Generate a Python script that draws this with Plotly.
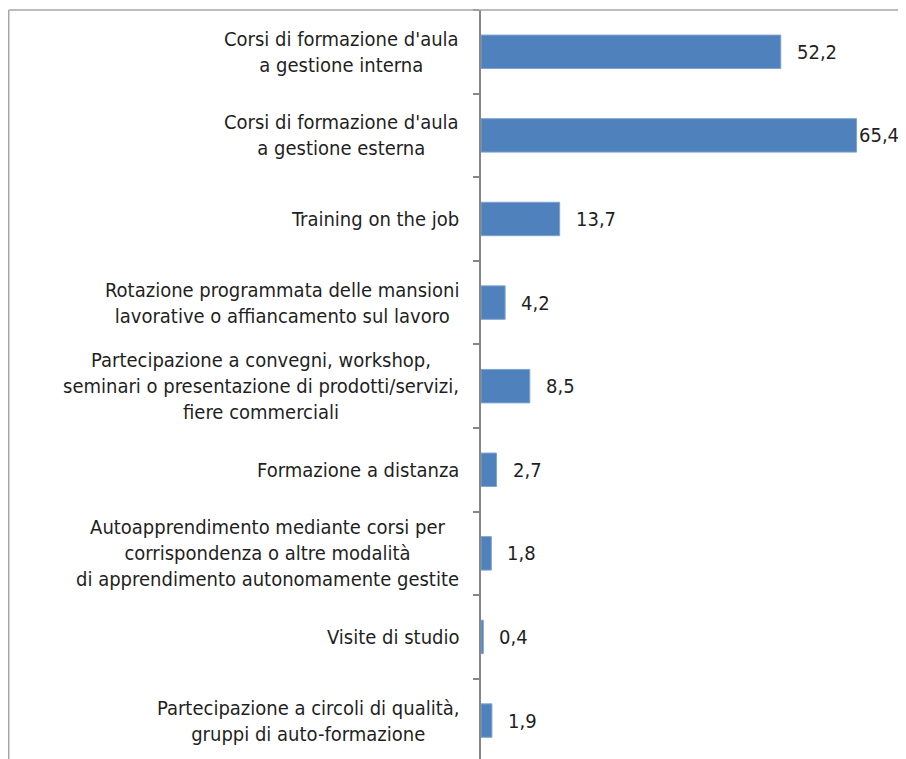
import plotly.graph_objects as go

# Tipologie di formazione e relative quote (%)
categories = [
    "Corsi di formazione d'aula<br>a gestione interna",
    "Corsi di formazione d'aula<br>a gestione esterna",
    "Training on the job",
    "Rotazione programmata delle mansioni<br>lavorative o affiancamento sul lavoro",
    "Partecipazione a convegni, workshop,<br>seminari o presentazione di prodotti/servizi,<br>fiere commerciali",
    "Formazione a distanza",
    "Autoapprendimento mediante corsi per<br>corrispondenza o altre modalità<br>di apprendimento autonomamente gestite",
    "Visite di studio",
    "Partecipazione a circoli di qualità,<br>gruppi di auto-formazione",
]
values = [52.2, 65.4, 13.7, 4.2, 8.5, 2.7, 1.8, 0.4, 1.9]

FONT = "DejaVu Sans Condensed, Liberation Sans, sans-serif"
BAR_COLOR = "#4F81BD"
AXIS_COLOR = "#868686"
TEXT_COLOR = "#1f1f1f"

fig = go.Figure()
fig.add_trace(go.Bar(
    x=values,
    y=categories,
    orientation='h',
    marker=dict(color=BAR_COLOR, line=dict(color='#7FA3CF', width=1)),
    hoverinfo='x+y',
))

annotations = []
# etichette delle categorie (righe centrate, blocco allineato all'asse)
for cat in categories:
    annotations.append(dict(
        x=0, y=cat, xref='x', yref='y', text=cat, showarrow=False,
        xanchor='right', yanchor='middle', align='center', xshift=-20,
        font=dict(family=FONT, size=20, color=TEXT_COLOR),
    ))
# etichette dei valori
vmax = max(values)
for cat, v in zip(categories, values):
    annotations.append(dict(
        x=v, y=cat, xref='x', yref='y', text=f"{v:.1f}".replace('.', ','),
        showarrow=False, xanchor='left', yanchor='middle',
        xshift=0 if v == vmax else 14,
        font=dict(family=FONT, size=20, color=TEXT_COLOR),
    ))

fig.update_layout(
    width=890, height=751,
    margin=dict(l=473, r=15, t=2, b=0),
    paper_bgcolor='white', plot_bgcolor='white',
    showlegend=False,
    bargap=0.6,
    annotations=annotations,
    shapes=[
        # cornice del grafico
        dict(type='line', xref='paper', yref='paper', x0=-1.1748, x1=1.1, y0=1, y1=1,
             line=dict(color='#A6A6A6', width=1.5)),
        dict(type='line', xref='paper', yref='paper', x0=-1.1748, x1=-1.1748, y0=1, y1=-0.1,
             line=dict(color='#A6A6A6', width=1.5)),
    ],
)
fig.update_xaxes(range=[0, 70], visible=False, showgrid=False)
fig.update_yaxes(
    range=[8.46, -0.5], showticklabels=False, showgrid=False,
    showline=True, linecolor=AXIS_COLOR, linewidth=1.5,
    ticks='outside', tickson='boundaries', ticklen=6, tickcolor=AXIS_COLOR, tickwidth=1.5,
    zeroline=False,
)

fig.write_html("out.html")
